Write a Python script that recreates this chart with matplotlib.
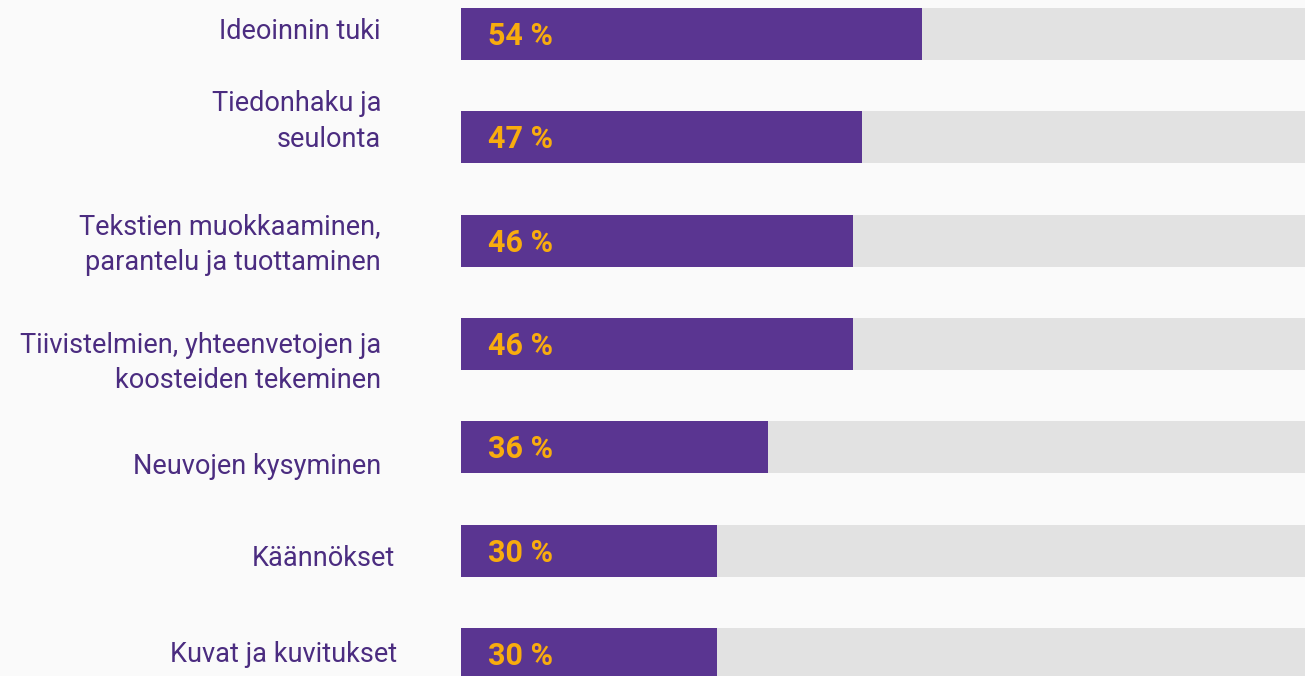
import matplotlib
matplotlib.use('Agg')
from matplotlib import pyplot as plt

categories = [
	'Ideoinnin tuki',
	'Tiedonhaku ja\nseulonta',
	'Tekstien muokkaaminen,\nparantelu ja tuottaminen',
	'Tiivistelmien, yhteenvetojen ja\nkoosteiden tekeminen',
	'Neuvojen kysyminen',
	'Käännökset',
	'Kuvat ja kuvitukset',
]
values = [54, 47, 46, 46, 36, 30, 30]
value_labels = ['54 %', '47 %', '46 %', '46 %', '36 %', '30 %', '30 %']

# label nudges in pixels (x, y), the original layout is a bit uneven
label_dx = [-80, -80, -80, -80, -80, -66, -64]
label_dy = [3, 16, -4, -19, -19, -8, 0]

purple = '#5a3591'
track = '#e2e2e2'
text_col = '#4b2c80'
gold = '#f8ac0e'
bg = '#fafafa'

plt.rcParams['font.family'] = ['Roboto', 'DejaVu Sans']

fig = plt.figure(figsize=(13.05, 6.76), dpi=100, facecolor=bg)
# axes runs past the right and bottom edges like in the original crop
ax = fig.add_axes([461 / 1305, -0.0440, 853 / 1305, 1.0700])
ax.set_facecolor(bg)

ypos = list(range(len(categories)))
ax.barh(ypos, [100] * len(values), height=0.503, color=track, zorder=1)
ax.barh(ypos, values, height=0.503, color=purple, zorder=2)

for i in ypos:
	ax.annotate(categories[i], xy=(0, i), xytext=(label_dx[i], label_dy[i]),
		textcoords='offset pixels', ha='right', va='center', fontsize=19.5,
		color=text_col, linespacing=1.42)
	ax.annotate(value_labels[i], xy=(0, i), xytext=(27, -2),
		textcoords='offset pixels', ha='left', va='center', fontsize=22,
		fontweight='bold', color=gold, zorder=3)

ax.set_xlim(0, 100)
ax.set_ylim(len(categories) - 0.5, -0.5)
ax.axis('off')

fig.savefig('out.png', dpi=100, facecolor=bg)
